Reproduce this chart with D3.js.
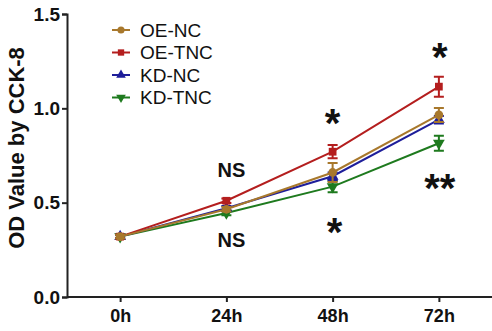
<html>
<head>
  <title>CCK-8</title>
  <script src="https://cdn.jsdelivr.net/npm/d3@7/dist/d3.min.js"></script>
  <style>
    body { margin: 0; background: #fff; }
    text { font-family: "Liberation Sans", Arial, sans-serif; }
  </style>
</head>
<body>
<script type="text/javascript">
  // data
  var times = ["0h", "24h", "48h", "72h"];
  var groups = ["OE-NC", "OE-TNC", "KD-NC", "KD-TNC"];
  var oeNc   = [0.32, 0.465, 0.66, 0.965];
  var oeTnc  = [0.32, 0.51, 0.77, 1.115];
  var kdNc   = [0.32, 0.47, 0.64, 0.94];
  var kdTnc  = [0.32, 0.445, 0.585, 0.815];
  var oeNcErr  = [0.01, 0.012, 0.05, 0.037];
  var oeTncErr = [0.01, 0.012, 0.035, 0.053];
  var kdNcErr  = [0.01, 0.012, 0.02, 0.02];
  var kdTncErr = [0.01, 0.012, 0.03, 0.04];
  var yTicks = [0.0, 0.5, 1.0, 1.5];

  var colors = ["#a8782c", "#b41e1e", "#1e1e9a", "#1e7a1e"];
  var shapes = [d3.symbolCircle, d3.symbolSquare, d3.symbolTriangle, "down"];

  var series = [
    { name: groups[0], v: oeNc,  e: oeNcErr,  c: colors[0], s: shapes[0] },
    { name: groups[1], v: oeTnc, e: oeTncErr, c: colors[1], s: shapes[1] },
    { name: groups[2], v: kdNc,  e: kdNcErr,  c: colors[2], s: shapes[2] },
    { name: groups[3], v: kdTnc, e: kdTncErr, c: colors[3], s: shapes[3] }
  ];

  var width = 492, height = 331;
  var svg = d3.select("body").append("svg")
    .attr("width", width).attr("height", height);

  var x = d3.scalePoint().domain(times).range([67, 492]).padding(0.5);
  var y = d3.scaleLinear().domain([0, 1.5]).range([297, 14]);

  function marker(g, s, c, size) {
    if (s === "down") {
      g.append("path").attr("d", d3.symbol(d3.symbolTriangle, size)())
        .attr("transform", "rotate(180)").attr("fill", c);
    } else {
      g.append("path").attr("d", d3.symbol(s, size)()).attr("fill", c);
    }
  }

  // axes
  var yAxis = svg.append("g").attr("transform", "translate(67,0)")
    .call(d3.axisLeft(y).tickValues(yTicks).tickFormat(d3.format(".1f")).tickSize(5).tickPadding(2));
  var xAxis = svg.append("g").attr("transform", "translate(0,297)")
    .call(d3.axisBottom(x).tickSize(5).tickPadding(7));
  [yAxis, xAxis].forEach(function (a) {
    a.select(".domain").attr("stroke", "#222").attr("stroke-width", 2);
    a.selectAll(".tick line").attr("stroke", "#222").attr("stroke-width", 2);
    a.selectAll("text").attr("fill", "#111").attr("font-weight", "bold")
      .attr("font-family", "Liberation Sans, Arial, sans-serif");
  });
  yAxis.selectAll("text").attr("font-size", 19);
  xAxis.selectAll("text").attr("font-size", 18);
  xAxis.select(".domain").attr("d", "M67,0H492");

  svg.append("text")
    .attr("transform", "translate(24,148) rotate(-90)")
    .attr("text-anchor", "middle")
    .attr("font-size", 22).attr("font-weight", "bold").attr("fill", "#111")
    .text("OD Value by CCK-8");

  // lines, error bars, markers
  var line = d3.line().x(function (d, i) { return x(times[i]); }).y(function (d) { return y(d); });
  var order = [3, 2, 1, 0];
  order.forEach(function (k) {
    var s = series[k];
    var g = svg.append("g");
    g.append("path").attr("d", line(s.v)).attr("fill", "none")
      .attr("stroke", s.c).attr("stroke-width", 2);
    s.v.forEach(function (v, i) {
      var cx = x(times[i]);
      var y0 = y(v - s.e[i]), y1 = y(v + s.e[i]);
      g.append("path")
        .attr("d", "M" + cx + "," + y0 + "V" + y1 + "M" + (cx - 5) + "," + y0 + "H" + (cx + 5) + "M" + (cx - 5) + "," + y1 + "H" + (cx + 5))
        .attr("stroke", s.c).attr("stroke-width", 2).attr("fill", "none");
      var m = g.append("g").attr("transform", "translate(" + cx + "," + y(v) + ")");
      marker(m, s.s, s.c, 60);
    });
  });

  // legend
  series.forEach(function (s, i) {
    var ly = 30 + i * 22.5;
    var g = svg.append("g").attr("transform", "translate(0," + ly + ")");
    g.append("line").attr("x1", 112).attr("x2", 130).attr("stroke", s.c).attr("stroke-width", 2);
    var m = g.append("g").attr("transform", "translate(121,0)");
    marker(m, s.s, s.c, 40);
    g.append("text").attr("x", 140).attr("y", 6.5).attr("font-size", 19).attr("fill", "#111").text(s.name);
  });

  // significance labels
  var notes = [
    { t: "NS", x: "24h", y: 0.636, fs: 20, dx: 5 },
    { t: "NS", x: "24h", y: 0.265, fs: 20, dx: 5 },
    { t: "*", x: "48h", y: 0.85, fs: 40, dx: 0 },
    { t: "*", x: "48h", y: 0.272, fs: 40, dx: 2 },
    { t: "*", x: "72h", y: 1.20, fs: 40, dx: 1 },
    { t: "**", x: "72h", y: 0.506, fs: 40, dx: 1 }
  ];
  notes.forEach(function (n) {
    svg.append("text").attr("x", x(n.x) + n.dx).attr("y", y(n.y))
      .attr("text-anchor", "middle").attr("font-size", n.fs).attr("font-weight", "bold")
      .attr("fill", "#111").text(n.t);
  });
</script>
</body>
</html>
